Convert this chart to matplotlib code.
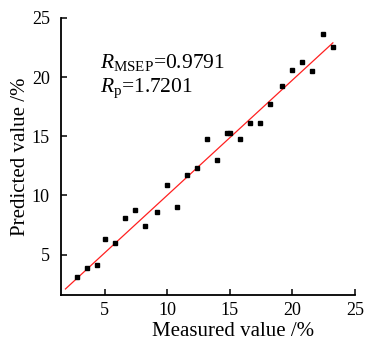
import matplotlib
matplotlib.use("Agg")
import matplotlib.pyplot as plt
import numpy as np

measured = [2.81, 3.61, 4.41, 5.00, 5.83, 6.63, 7.43, 8.23, 9.21, 10.01, 10.81, 11.61,
            12.39, 14.01, 13.21, 14.81, 15.03, 15.80, 16.60, 17.40, 18.20, 19.21,
            20.01, 20.81, 21.61, 22.44, 23.24]
predicted = [3.12, 3.91, 4.16, 6.30, 5.99, 8.10, 8.75, 7.43, 8.58, 10.91, 9.03, 11.70,
             12.32, 12.97, 14.77, 15.25, 15.25, 14.77, 16.15, 16.12, 17.72, 19.24,
             20.56, 21.27, 20.51, 23.61, 22.53]
fit_x = [1.86, 23.24]
fit_slope = 0.972
fit_intercept = 0.30
xticks = [5, 10, 15, 20, 25]
yticks = [5, 10, 15, 20, 25]

plt.rcParams['font.family'] = ['Liberation Serif', 'DejaVu Serif']
plt.rcParams['mathtext.fontset'] = 'custom'
plt.rcParams['mathtext.rm'] = 'Liberation Serif'
plt.rcParams['mathtext.it'] = 'Liberation Serif:italic'

fig = plt.figure(figsize=(3.67, 3.43), dpi=100)
ax = fig.add_axes([0.166, 0.140, 0.801, 0.808])

fx = np.array(fit_x)
ax.plot(fx, fit_slope * fx + fit_intercept, color='#ff2020', lw=0.9, zorder=2)
ax.plot(measured, predicted, 's', color='black', markersize=2.8, zorder=3)

ax.set_xlim(1.5, 25)
ax.set_ylim(1.6, 25)
ax.set_xticks(xticks)
ax.set_yticks(yticks)
ax.spines['top'].set_visible(False)
ax.spines['right'].set_visible(False)
for s in ['left', 'bottom']:
    ax.spines[s].set_linewidth(1.3)
ax.tick_params(direction='in', length=4, width=1.1, labelsize=13)
ax.tick_params(axis='x', pad=5)
ax.tick_params(axis='y', pad=8)

ax.set_xlabel('Measured value /%', fontsize=15)
ax.set_ylabel('Predicted value /%', fontsize=15)
ax.xaxis.set_label_coords(0.585, -0.098)
ax.yaxis.set_label_coords(-0.105, 0.5)

ax.text(0.133, 0.82, r'$R_{\rm MSEP}$=0.9791', transform=ax.transAxes, fontsize=15.5, va='baseline')
ax.text(0.133, 0.733, r'$R_{\rm p}$=1.7201', transform=ax.transAxes, fontsize=15.5, va='baseline')

fig.savefig('out.png', dpi=100)
